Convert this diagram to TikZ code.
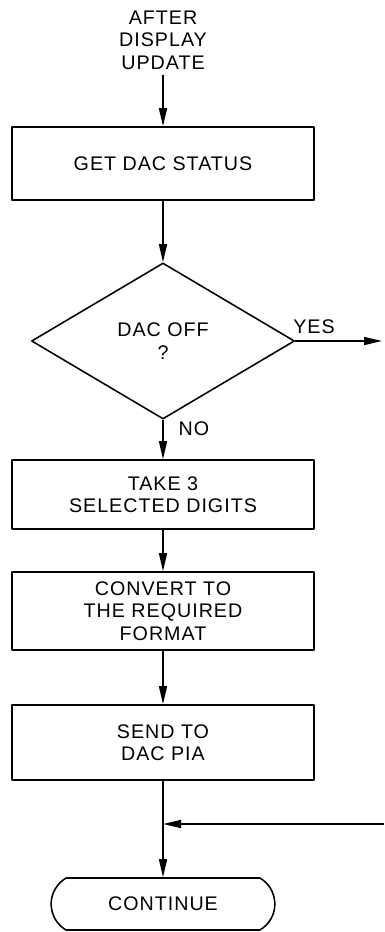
\documentclass[tikz,border=0pt]{standalone}
\usepackage{fontspec}
\setmainfont{Liberation Sans}[LetterSpace=5]
\usetikzlibrary{shapes.geometric,shapes.misc,arrows.meta}
\begin{document}
\begin{tikzpicture}[x=0.025cm,y=-0.025cm,line join=round,line width=1.1pt,
	font=\fontsize{14}{16}\selectfont,
	box/.style={draw,align=center,minimum width=7.55cm,inner sep=0pt},
	arr/.style={-{Triangle[length=4.5mm,width=2mm]}}]
	\useasboundingbox (0,0) rectangle (384,932);
	\node[align=center] (start) at (163,40) {AFTER\\DISPLAY\\UPDATE};
	\node[box,minimum height=1.825cm] (get) at (163,163.5) {GET DAC STATUS};
	\node[draw,diamond,align=center,inner sep=0pt,minimum width=6.575cm,minimum height=3.9cm] (dac) at (163,341) {DAC OFF\\?};
	\node[box,minimum height=1.725cm] (take) at (163,494.5) {TAKE 3\\SELECTED DIGITS};
	\node[box,minimum height=1.95cm] (conv) at (163,611) {CONVERT TO\\THE REQUIRED\\FORMAT};
	\node[box,minimum height=1.875cm] (send) at (163,742.5) {SEND TO\\DAC PIA};
	\node[draw,rounded rectangle,rounded rectangle arc length=120,minimum width=5.825cm,minimum height=1.3cm] (cont) at (163,904) {CONTINUE};
	\node (yes) at (314,327) {YES};
	\node (no) at (194,429) {NO};
	\coordinate (off) at (382,341);
	\coordinate (back) at (384,824);
	\draw[arr] (start) -- (get);
	\draw[arr] (get) -- (dac);
	\draw[arr] (dac) -- (take);
	\draw[arr] (take) -- (conv);
	\draw[arr] (conv) -- (send);
	\draw[arr] (send) -- (cont);
	\draw[arr] (dac.east) -- (off);
	\draw[arr] (back) -- (back -| send.south);
\end{tikzpicture}
\end{document}
